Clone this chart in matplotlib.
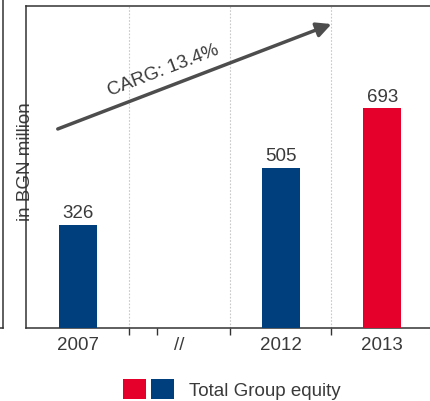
import matplotlib
matplotlib.use("Agg")
import matplotlib.pyplot as plt
from matplotlib.patches import Patch
from matplotlib.legend_handler import HandlerTuple
from matplotlib.lines import Line2D

categories = ["2007", "//", "2012", "2013"]
values = [326, 0, 505, 693]
bar_colors = ["#003f7d", "#003f7d", "#003f7d", "#e4002b"]
value_labels = ["326", "", "505", "693"]
cagr_label = "CARG: 13.4%"
ylabel = "in BGN million"
legend_label = "Total Group equity"

plt.rcParams["font.family"] = ["Liberation Sans", "DejaVu Sans"]
txt = "#3a3a3a"
fs = 13.5

fig = plt.figure(figsize=(4.31, 4.02), dpi=100)
W, H = 431, 402
ax = fig.add_axes([26 / W, (H - 329) / H, 408 / W, 322 / H])

x = list(range(len(categories)))
bars = ax.bar(x, values, width=0.375, color=bar_colors, zorder=3)
for xi, v, lab in zip(x, values, value_labels):
    if lab:
        ax.text(xi, v + 12, lab, ha="center", va="bottom", fontsize=fs, color=txt)

ax.set_xlim(-0.51, 3.51)
ax.set_ylim(0, 1016)
ax.set_xticks(x)
ax.set_xticklabels(categories, fontsize=fs, color=txt)
ax.tick_params(axis="x", which="major", length=0, pad=6)
ax.set_xticks([0.5, 0.78, 1.5, 2.5], minor=True)
ax.tick_params(axis="x", which="minor", length=5, width=1, color="#333333", direction="out")
ax.set_yticks([])
for gx in [0.5, 1.5, 2.5]:
    ax.axvline(gx, color="#c8c8c8", lw=0.8, ls=(0, (1.5, 1.5)), zorder=1)

for s in ["left", "top", "bottom"]:
    ax.spines[s].set_color("#333333")
    ax.spines[s].set_linewidth(1.1)
ax.spines["right"].set_visible(False)

ax.set_ylabel(ylabel, fontsize=fs, color=txt)
ax.yaxis.set_label_coords(0.02, 0.52)

# growth arrow
ax.annotate("", xy=(2.50, 959), xytext=(-0.197, 628),
            arrowprops=dict(arrowstyle="-|>", color="#4d4d4d", lw=2.5,
                            mutation_scale=22, shrinkA=0, shrinkB=0), zorder=5)
ax.text(0.84, 815, cagr_label, fontsize=fs, color=txt, rotation=21,
        ha="center", va="center", rotation_mode="anchor")

# left neighbour axis line
fig.add_artist(Line2D([3 / W, 3 / W], [(H - 329) / H, 1], color="#333333", lw=1.1))
fig.add_artist(Line2D([0, 3 / W], [(H - 329) / H, (H - 329) / H], color="#333333", lw=1.1))

red = Patch(facecolor="#e4002b")
blue = Patch(facecolor="#003f7d")
fig.legend(handles=[(red, blue)], labels=[legend_label],
           handler_map={tuple: HandlerTuple(ndivide=None, pad=0.27)},
           loc="center left", bbox_to_anchor=(123 / W, 1 - 390 / H),
           frameon=False, fontsize=fs, labelcolor=txt,
           handlelength=2.72, handleheight=1.23, handletextpad=0.8,
           borderpad=0, borderaxespad=0)

fig.savefig("out.png", dpi=100)
